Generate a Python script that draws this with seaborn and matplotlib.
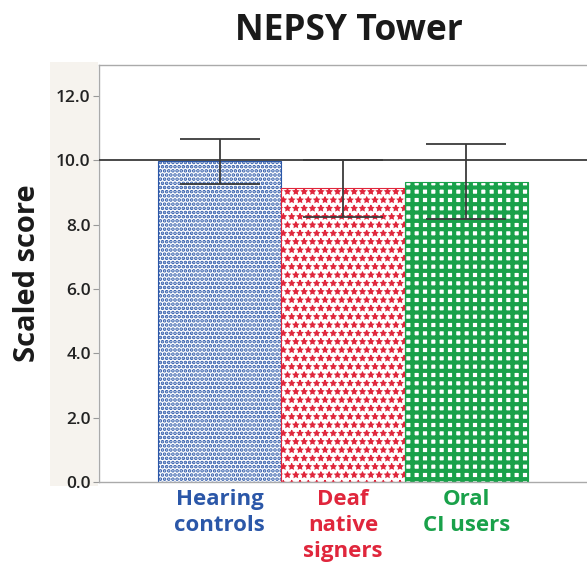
import numpy as np
import pandas as pd
import matplotlib
matplotlib.use("Agg")
import matplotlib.pyplot as plt
import seaborn as sns
from matplotlib.patches import Rectangle

# ======== DATA ========
groups = ["Hearing\ncontrols", "Deaf\nnative\nsigners", "Oral\nCI users"]
means = [9.97, 9.13, 9.34]
errors = [0.70, 0.90, 1.17]
reference_line = 10.0
y_ticks = [0.0, 2.0, 4.0, 6.0, 8.0, 10.0, 12.0]

colors = ["#2b57a8", "#e0263c", "#19a14a"]
hatches = ["....", "**", "++"]
hatch_widths = [1.8, 0.8, 3.0]

# ======== SETUP ========
sns.set_theme(style="white")
plt.rcParams["font.family"] = ["Open Sans", "DejaVu Sans"]

fig = plt.figure(figsize=(5.87, 5.74), dpi=100)
# beige strip behind the tick labels
strip = Rectangle((50 / 587, 1 - 486 / 574), 48 / 587, 424 / 574,
                  transform=fig.transFigure, facecolor="#f6f3ee",
                  edgecolor="none", zorder=-5)
fig.patches.append(strip)
ax = fig.add_axes([99 / 587, 1 - 482 / 574, 488 / 587, 417 / 574])
ax.set_zorder(1)
ax.set_facecolor("white")

df = pd.DataFrame({"group": groups, "mean": means})
sns.barplot(data=df, x="group", y="mean", ax=ax, width=1.0,
            errorbar=None, color="white", zorder=2)

for i, p in enumerate(ax.patches):
    p.set_facecolor("white")
    p.set_edgecolor(colors[i])
    p.set_hatch(hatches[i])
    p.set_linewidth(0.8)
    if hasattr(p, "set_hatch_linewidth"):
        p.set_hatch_linewidth(hatch_widths[i])

ax.axhline(reference_line, color="#3a3a3a", lw=1.3, zorder=3)
ax.errorbar(range(len(groups)), means, yerr=errors, fmt="none",
            ecolor="#3a3a3a", elinewidth=1.3, capsize=29, capthick=1.3, zorder=4)

# ======== AXES ========
ax.set_xlim(-0.98, 2.98)
ax.set_ylim(0, 12.97)
ax.set_yticks(y_ticks)
ax.set_yticklabels([f"{v:.1f}" for v in y_ticks], fontsize=12.5,
                   fontweight="semibold", color="#222222")
ax.tick_params(axis="y", length=4, width=0.8, color="#999999", left=True, pad=2)
ax.tick_params(axis="x", length=0, pad=5)
ax.set_xticks(range(len(groups)))
ax.set_xticklabels(groups, fontsize=16, fontweight="bold", linespacing=1.3)
for lab, c in zip(ax.get_xticklabels(), colors):
    lab.set_color(c)

for side in ["left", "top", "bottom"]:
    ax.spines[side].set_color("#aaaaaa")
    ax.spines[side].set_linewidth(1.0)
ax.spines["right"].set_visible(False)

ax.set_xlabel("")
ax.set_ylabel("Scaled score", fontsize=21, fontweight="bold", color="#1a1a1a", labelpad=10)
fig.text(349 / 587, 1 - 31 / 574, "NEPSY Tower", fontsize=25.5, fontweight="bold",
         ha="center", va="center", color="#1a1a1a")

fig.savefig("out.png", dpi=100)
